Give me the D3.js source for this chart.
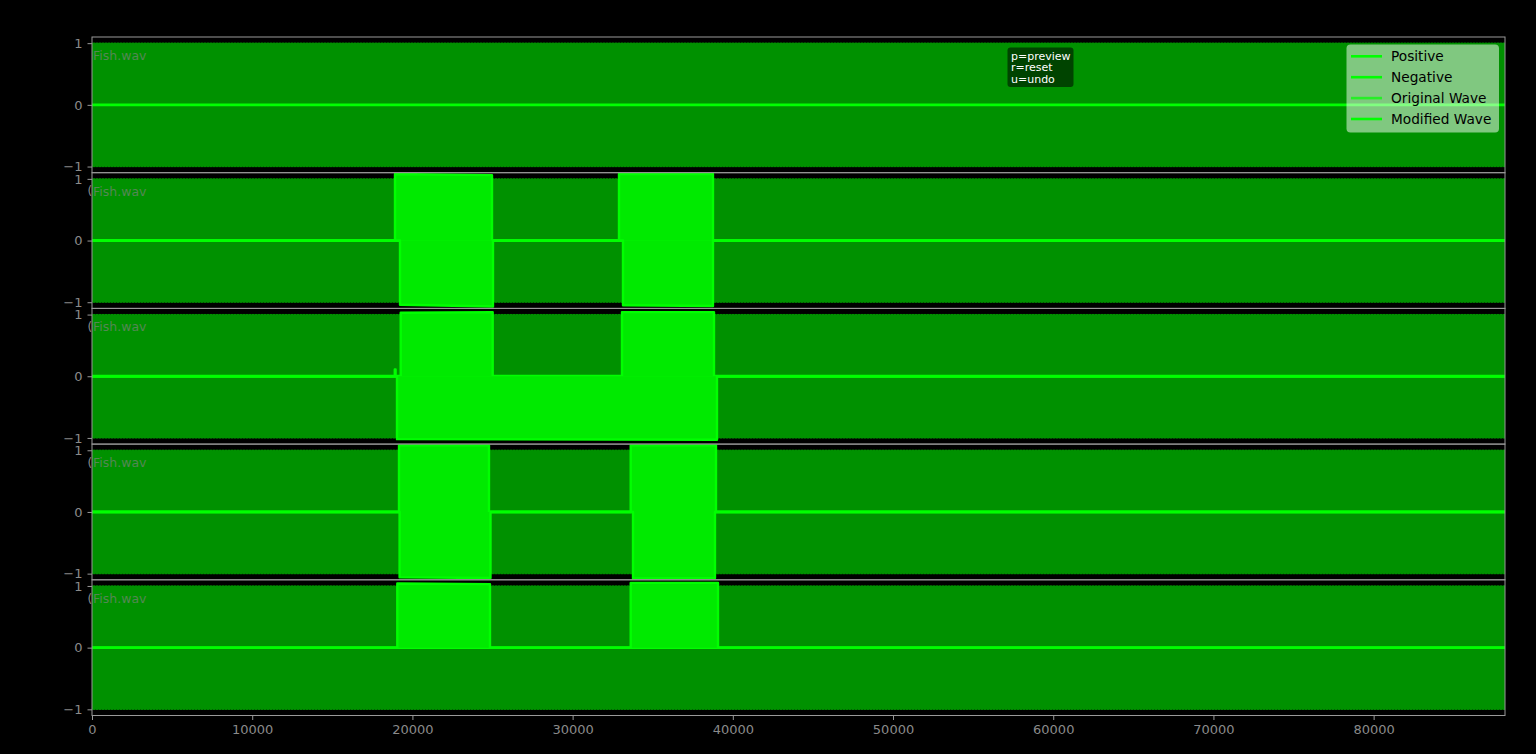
<!DOCTYPE html>
<html><head><meta charset="utf-8">
<script src="https://cdn.jsdelivr.net/npm/d3@7"></script>
<style>
html,body{margin:0;padding:0;background:#000;}
svg{display:block;font-family:"DejaVu Sans",sans-serif;}
</style></head>
<body><svg id="chart" width="1536" height="754"></svg>
<script>
// ---- data ----
const sampleCount = 88200;
const panelTitles = ["Fish.wav","Fish.wav","Fish.wav","Fish.wav","Fish.wav"];
const yTicks = [-1, 0, 1];
const xTicks = [0,10000,20000,30000,40000,50000,60000,70000,80000];
const originalAmplitude = 1.01;
// bursts of the modified wave per panel: [start, end, valueAtStart, valueAtEnd]
const positiveBursts = [
  [],
  [[18913, 24968, 1.08, 1.06], [32895, 38762, 1.08, 1.08]],
  [[18900, 18950, 0.11, 0.11], [19269, 25011, 1.03, 1.04], [33083, 38825, 1.04, 1.04]],
  [[19163, 24780, 1.08, 1.08], [33626, 38950, 1.08, 1.08]],
  [[19057, 24843, 1.04, 1.03], [33626, 39075, 1.05, 1.05]]
];
const negativeBursts = [
  [],
  [[19226, 25030, -1.04, -1.07], [33145, 38762, -1.05, -1.06]],
  [[19038, 39012, -1.02, -1.03]],
  [[19200, 24874, -1.06, -1.07], [33770, 38887, -1.08, -1.07]],
  []
];
const legendLabels = ["Positive","Negative","Original Wave","Modified Wave"];
const legendColors = ["#00ff00","#00ff00","rgba(0,255,0,0.7)","#00ff00"];
const helpLines = ["p=preview","r=reset","u=undo"];

// ---- layout ----
const svg = d3.select("#chart");
const marginLeft = 92, marginRight = 1505, marginTop = 37, panelH = 135.7;
const nPanels = panelTitles.length;
const x = d3.scaleLinear().domain([0, sampleCount]).range([marginLeft, marginRight]);
const axisGray = "#999";
const textGray = "#8a8a8a";

function envelope(bursts){
  const pts = [[0,0]];
  bursts.forEach(b => { pts.push([b[0],0],[b[0],b[2]],[b[1],b[3]],[b[1],0]); });
  pts.push([sampleCount,0]);
  return pts;
}

panelTitles.forEach((title, i) => {
  const pTop = marginTop + i*panelH;
  const y = d3.scaleLinear().domain([-1.1, 1.1]).range([pTop + panelH, pTop]);
  const g = svg.append("g");
  const clipId = "clip" + i;
  svg.append("clipPath").attr("id", clipId).append("rect")
    .attr("x", marginLeft).attr("y", pTop).attr("width", marginRight-marginLeft).attr("height", panelH);

  if (i > 0) {
    g.append("text").attr("x", 87.5).attr("y", y(0.8)).attr("dy", "0.35em")
      .attr("fill", textGray).attr("font-size", 12).text("(");
  }
  const inner = g.append("g").attr("clip-path", `url(#${clipId})`);
  inner.append("rect").attr("x", x(0)).attr("width", x(sampleCount)-x(0))
    .attr("y", y(originalAmplitude)).attr("height", y(-originalAmplitude)-y(originalAmplitude))
    .attr("fill", "#009100");
  [originalAmplitude, -originalAmplitude].forEach(v => {
    inner.append("line").attr("x1", x(0)).attr("x2", x(sampleCount))
      .attr("y1", y(v)).attr("y2", y(v))
      .attr("stroke", "rgba(0,0,0,0.55)").attr("stroke-width", 1).attr("stroke-dasharray", "1,2");
  });
  inner.append("line").attr("x1", x(0)).attr("x2", x(sampleCount))
    .attr("y1", y(0)).attr("y2", y(0)).attr("stroke", "#00ff00").attr("stroke-width", 2.8);
  const area = d3.area().x(d => x(d[0])).y0(y(0)).y1(d => y(d[1]));
  const line = d3.line().x(d => x(d[0])).y(d => y(d[1]));
  [positiveBursts[i], negativeBursts[i]].forEach(b => {
    if (!b.length) return;
    const pts = envelope(b);
    inner.append("path").attr("d", area(pts)).attr("fill", "#00ea00");
    inner.append("path").attr("d", line(pts)).attr("fill", "none")
      .attr("stroke", "#00ff00").attr("stroke-width", 2.4).attr("stroke-linejoin", "round");
  });
  g.append("text").attr("x", marginLeft + 1).attr("y", y(0.8)).attr("dy", "0.35em")
    .attr("fill", "rgb(84,136,84)").attr("font-size", 12.5).text(title);
  g.append("rect").attr("x", marginLeft).attr("y", pTop).attr("width", marginRight-marginLeft).attr("height", panelH)
    .attr("fill", "none").attr("stroke", axisGray).attr("stroke-width", 1);
  const ya = g.append("g").attr("transform", `translate(${marginLeft},0)`)
    .call(d3.axisLeft(y).tickValues(yTicks).tickSize(4.5).tickPadding(5)
      .tickFormat(d => d < 0 ? "\u2212" + Math.abs(d) : d));
  ya.select(".domain").remove();
  ya.selectAll("line").attr("stroke", axisGray);
  ya.selectAll("text").attr("fill", textGray).attr("font-size", 13).attr("font-family", "DejaVu Sans");

  if (i === nPanels - 1) {
    const xa = g.append("g").attr("transform", `translate(0,${pTop + panelH})`)
      .call(d3.axisBottom(x).tickValues(xTicks).tickSize(4.5).tickPadding(5).tickFormat(d3.format("d")));
    xa.select(".domain").remove();
    xa.selectAll("line").attr("stroke", axisGray);
    xa.selectAll("text").attr("fill", textGray).attr("font-size", 13).attr("font-family", "DejaVu Sans");
  }
});

const hb = svg.append("g");
hb.append("rect").attr("x", 1007.5).attr("y", 47.5).attr("width", 66).attr("height", 39.5)
  .attr("rx", 3).attr("fill", "#004400");
helpLines.forEach((t, k) => {
  hb.append("text").attr("x", 1011).attr("y", 60 + k*11.3).attr("fill", "#fff")
    .attr("font-size", 11).text(t);
});

const lg = svg.append("g");
lg.append("rect").attr("x", 1346.5).attr("y", 44.5).attr("width", 152.5).attr("height", 88)
  .attr("rx", 4).attr("fill", "rgba(255,255,255,0.5)");
legendLabels.forEach((t, k) => {
  const cy = 56.3 + k*20.9;
  lg.append("line").attr("x1", 1351).attr("x2", 1382).attr("y1", cy).attr("y2", cy)
    .attr("stroke", legendColors[k]).attr("stroke-width", 2.6);
  lg.append("text").attr("x", 1391).attr("y", cy).attr("dy", "0.36em")
    .attr("fill", "#000").attr("font-size", 13.7).text(t);
});
</script></body></html>
